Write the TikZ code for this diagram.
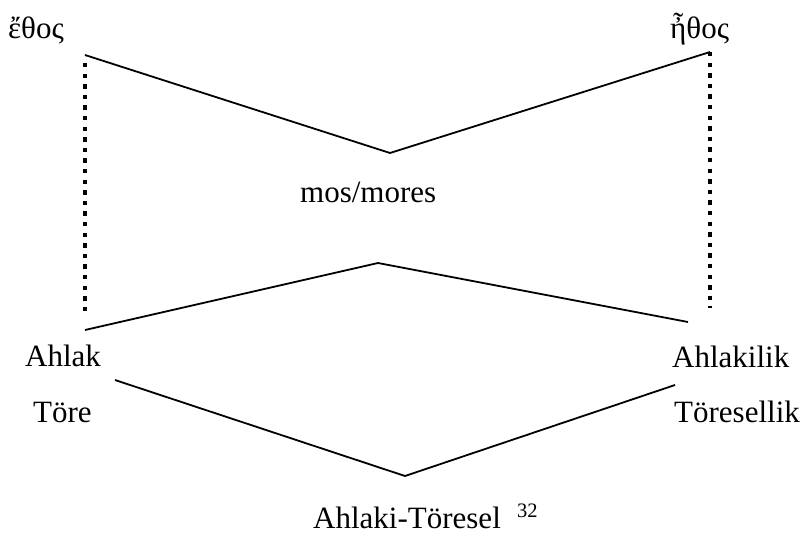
\documentclass[tikz,border=0pt]{standalone}
\usepackage{fontspec}
\setmainfont{Liberation Serif}
\begin{document}
\begin{tikzpicture}[x=1pt,y=-1pt,
  lbl/.style={inner sep=0pt,anchor=base west,font=\fontsize{31}{36}\selectfont},
  note/.style={inner sep=0pt,anchor=base west,font=\fontsize{20.5}{24}\selectfont},
  wire/.style={line width=1.8pt},
  dots/.style={line width=4.6pt,dash pattern=on 4.4pt off 6.2pt}]
\useasboundingbox (0,0) rectangle (800,538);
% labels
\node[lbl] (ethos1) at (8,38) {ἔθος};
\node[lbl] (ethos2) at (670,38) {ἦθος};
\node[lbl] (mos) at (300,202) {mos/mores};
\node[lbl] (ahlak) at (25,366) {Ahlak};
\node[lbl] (ahlakilik) at (672,367) {Ahlakilik};
\node[lbl] (tore) at (33,422) {Töre};
\node[lbl] (toresellik) at (674,422) {Töresellik};
\node[lbl] (ahlaki) at (313,528) {Ahlaki-Töresel};
\node[note] (fn) at (517,517) {32};
% corner points of the three bent lines
\coordinate (a1) at (85,55);
\coordinate (a2) at (390,153);
\coordinate (a3) at (710,52);
\coordinate (b1) at (85,330);
\coordinate (b2) at (378,263);
\coordinate (b3) at (688,322);
\coordinate (c1) at (115,380);
\coordinate (c2) at (405,476);
\coordinate (c3) at (675,385);
% ends of the two dotted uprights
\coordinate (d1) at (85,63);
\coordinate (d2) at (85,313);
\coordinate (e1) at (710,52);
\coordinate (e2) at (710,308);
\draw[wire] (a1) -- (a2) -- (a3);
\draw[wire] (b1) -- (b2) -- (b3);
\draw[wire] (c1) -- (c2) -- (c3);
\draw[dots] (d1) -- (d2);
\draw[dots] (e1) -- (e2);
\end{tikzpicture}
\end{document}
